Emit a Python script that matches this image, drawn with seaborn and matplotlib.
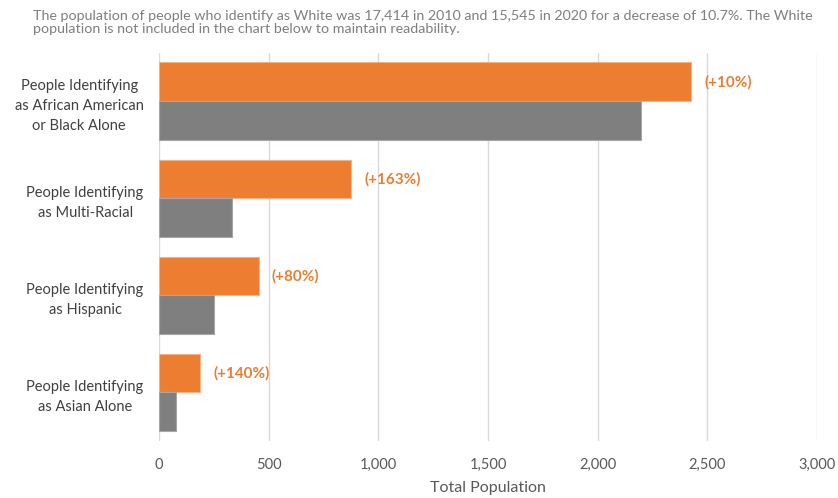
import matplotlib
matplotlib.use("Agg")
import matplotlib.pyplot as plt
import seaborn as sns
import pandas as pd

categories = [
    "People Identifying\nas African American\nor Black Alone",
    "People Identifying\nas Multi-Racial",
    "People Identifying\nas Hispanic",
    "People Identifying\nas Asian Alone",
]
pop_2020 = [2425, 876, 455, 187]
pop_2010 = [2198, 333, 252, 78]
changes = ["(+10%)", "(+163%)", "(+80%)", "(+140%)"]
years = ["2020", "2010"]
x_ticks = [0, 500, 1000, 1500, 2000, 2500, 3000]
x_tick_labels = ["0", "500", "1,000", "1,500", "2,000", "2,500", "3,000"]

df = pd.DataFrame({
    "category": categories * 2,
    "year": ["2020"] * 4 + ["2010"] * 4,
    "value": pop_2020 + pop_2010,
})

sns.set_theme(style="white")
plt.rcParams["font.family"] = ["Lato", "DejaVu Sans"]

fig = plt.figure(figsize=(8.38, 4.98), dpi=100)
ax = fig.add_axes([0.1897, 0.1145, 0.7853, 0.7795])

palette = {"2020": "#ED7D31", "2010": "#7F7F7F"}
sns.barplot(data=df, y="category", x="value", hue="year", hue_order=years,
            order=categories, palette=palette, orient="h", ax=ax,
            width=0.8, saturation=1, legend=False, zorder=3)
for p in ax.patches:
    fc = p.get_facecolor()
    p.set_edgecolor("#f4b183" if fc[0] > 0.8 else "#a6a6a6")
    p.set_linewidth(0.8)

ax.set_xlim(0, 3000)
ax.set_xticks(x_ticks)
ax.set_xticklabels(x_tick_labels, fontsize=10.5, color="#595959")
ax.set_xlabel("Total Population", fontsize=11.5, color="#595959", labelpad=7)
ax.set_ylabel("")
for lbl in ax.get_yticklabels():
    lbl.set_multialignment("center")
    lbl.set_fontsize(10.5)
    lbl.set_color("#404040")
    lbl.set_linespacing(1.55)
ax.tick_params(axis="both", length=0)
ax.tick_params(axis="y", pad=11)
ax.tick_params(axis="x", pad=12)
for s in ax.spines.values():
    s.set_visible(False)
ax.xaxis.grid(True, color="#d9d9d9", linewidth=1, zorder=0)
ax.set_axisbelow(True)

# annotations beside 2020 bars
orange_bars = [p for p in ax.patches if p.get_facecolor()[0] > 0.8][:4]
for p, txt in zip(orange_bars, changes):
    ax.text(p.get_width() + 60, p.get_y() + p.get_height() / 2, txt,
            color="#ED7D31", fontsize=11, fontweight="bold",
            va="center", ha="left")

fig.text(33 / 838, 1 - 10 / 498,
         "The population of people who identify as White was 17,414 in 2010 and 15,545 in 2020 for a decrease of 10.7%. The White\npopulation is not included in the chart below to maintain readability.",
         fontsize=10.3, color="#7F7F7F", va="top", ha="left", linespacing=1.1)

fig.savefig("out.png", dpi=100)
